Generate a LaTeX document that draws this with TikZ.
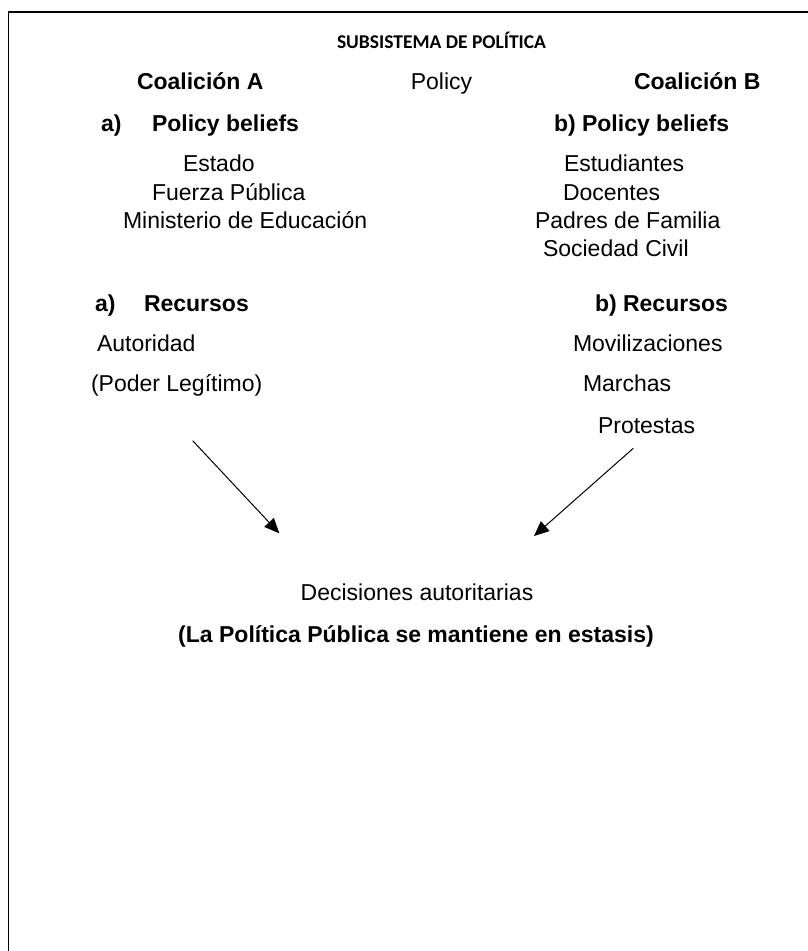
\documentclass[tikz,border=0pt]{standalone}
\usepackage{fontspec}
\setmainfont{Liberation Sans}
\newfontfamily\calibrifont{Carlito}
\usetikzlibrary{arrows.meta}
\tikzset{
  txt/.style={inner sep=0pt, outer sep=0pt, anchor=base west, font=\fontsize{23}{28}\selectfont},
  btxt/.style={txt, font=\fontsize{23}{28}\selectfont\bfseries},
  ctxt/.style={txt, anchor=base},
  cbtxt/.style={btxt, anchor=base},
  conn/.style={line width=1pt, -{Triangle[length=15pt,width=13pt]}},
  frame/.style={line width=1.3pt}
}
\begin{document}
\begin{tikzpicture}[x=1pt,y=-1pt]
\useasboundingbox (0,0) rectangle (808,951);
\fill[white] (0,0) rectangle (808,951);
\draw[frame] (808,12) -- (8.5,12) -- (8.5,951);

\node[inner sep=0pt, anchor=base, font=\fontsize{19.5}{23}\selectfont\calibrifont\bfseries] (title) at (441.5,48) {SUBSISTEMA DE POLÍTICA};

\node[btxt] (coalA) at (137,89.3) {Coalición A};
\node[ctxt] (policy) at (441.5,89.3) {Policy};
\node[btxt] (coalB) at (634,89.3) {Coalición B};

\node[btxt] (aPB) at (101,131.7) {a)};
\node[btxt] (PBa) at (152,131.7) {Policy beliefs};
\node[btxt] (PBb) at (554,131.7) {b) Policy beliefs};

\node[txt] (estado) at (183,171.7) {Estado};
\node[txt] (fuerza) at (152,200) {Fuerza Pública};
\node[txt] (minis) at (123,228.3) {Ministerio de Educación};

\node[txt] (estud) at (564,171.7) {Estudiantes};
\node[txt] (docen) at (563,200) {Docentes};
\node[txt] (padres) at (535,228.3) {Padres de Familia};
\node[txt] (socie) at (543,256.7) {Sociedad Civil};

\node[btxt] (aR) at (95,311) {a)};
\node[btxt] (Ra) at (144,311) {Recursos};
\node[btxt] (Rb) at (595,311) {b) Recursos};

\node[txt] (autor) at (97,351.7) {Autoridad};
\node[txt] (poder) at (91,391.7) {(Poder Legítimo)};

\node[txt] (movil) at (573,351.7) {Movilizaciones};
\node[txt] (march) at (583,391.7) {Marchas};
\node[txt] (prot) at (598,433) {Protestas};

\node[ctxt] (decis) at (417,600) {Decisiones autoritarias};
\node[cbtxt] (estasis) at (416,642.7) {(La Política Pública se mantiene en estasis)};

\coordinate (a1s) at (192.7,440.7);
\coordinate (a1e) at (279.3,533.3);
\coordinate (a2s) at (633.3,448.3);
\coordinate (a2e) at (534,536);
\draw[conn] (a1s) -- (a1e);
\draw[conn] (a2s) -- (a2e);
\end{tikzpicture}
\end{document}
